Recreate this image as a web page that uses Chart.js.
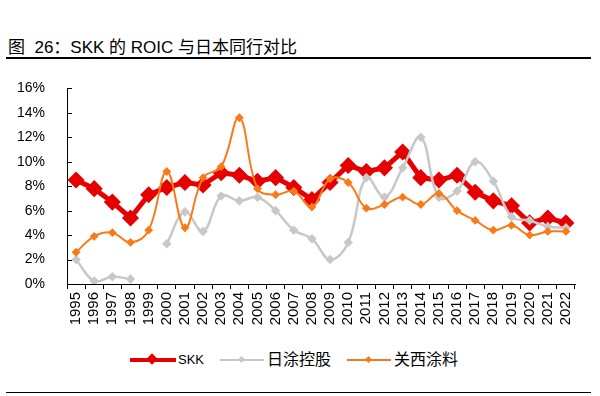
<!DOCTYPE html>
<html>
<head>
<meta charset="utf-8">
<script src="https://cdn.jsdelivr.net/npm/chart.js@4"></script>
<style>
  body { margin: 0; width: 600px; height: 396px; background: #fff; position: relative; overflow: hidden;
         font-family: "Liberation Sans", "Noto Sans CJK SC", sans-serif; }
  #title { position: absolute; left: 8px; top: 33px; font-size: 17px; color: #000; white-space: nowrap; }
  #rule1 { position: absolute; left: 6px; top: 57px; width: 585px; height: 2px; background: #000; }
  #rule2 { position: absolute; left: 6px; top: 392px; width: 585px; height: 1px; background: #000; }
  #wrap { position: absolute; left: 0; top: 66px; width: 600px; height: 270px; }
  #legend { position: absolute; top: 350px; left: 0; width: 600px; height: 20px; }
  .item { position: absolute; top: 0; height: 20px; font-size: 14px; line-height: 20px; color: #000; }
  .ln { position: absolute; top: 9px; }
  .mk { position: absolute; transform: rotate(45deg); }
</style>
</head>
<body>
<div id="title">图&nbsp;&nbsp;26：SKK 的 ROIC 与日本同行对比</div>
<div id="rule1"></div>
<div id="wrap"><canvas id="c"></canvas></div>
<div id="legend">
  <div class="item" style="left:130px">
    <div class="ln" style="left:0;width:46px;height:4px;top:8px;background:#e60000"></div>
    <div class="mk" style="left:18px;top:5px;width:8px;height:8px;background:#e60000"></div>
    <span style="position:absolute;left:48px;font-size:13px">SKK</span>
  </div>
  <div class="item" style="left:220px">
    <div class="ln" style="left:0;width:44px;height:2px;background:#c8c8c8"></div>
    <div class="mk" style="left:19px;top:7px;width:5px;height:5px;background:#c8c8c8"></div>
    <span style="position:absolute;left:47px;font-size:16px;white-space:nowrap">日涂控股</span>
  </div>
  <div class="item" style="left:347px">
    <div class="ln" style="left:0;width:44px;height:2px;background:#f97a18"></div>
    <div class="mk" style="left:19px;top:7px;width:5px;height:5px;background:#f97a18"></div>
    <span style="position:absolute;left:47px;font-size:16px;white-space:nowrap">关西涂料</span>
  </div>
</div>
<div id="rule2"></div>
<script>
let years = ["1995","1996","1997","1998","1999","2000","2001","2002","2003","2004","2005","2006","2007","2008",
             "2009","2010","2011","2012","2013","2014","2015","2016","2017","2018","2019","2020","2021","2022"];
let skk = [8.5,7.8,6.7,5.4,7.3,7.9,8.3,8.1,9.1,8.9,8.4,8.7,7.9,6.9,
           8.3,9.7,9.2,9.5,10.8,8.7,8.5,8.9,7.5,6.8,6.4,5.0,5.4,5.0];
let nippon = [2.0,0.25,0.6,0.4,null,3.3,5.9,4.3,7.2,6.8,7.1,6.0,4.4,3.7,
              2.0,3.4,8.7,7.1,9.5,12.0,7.1,7.6,10.0,8.4,5.5,5.2,4.7,4.6];
let kansai = [2.6,3.9,4.2,3.4,4.4,9.2,4.6,8.7,9.6,13.6,7.8,7.3,7.6,6.3,
              8.6,8.3,6.2,6.5,7.1,6.5,7.4,6.0,5.2,4.4,4.8,4.0,4.3,4.3];
let yTicks = [0,2,4,6,8,10,12,14,16];

let fam = "'Liberation Sans', Arial, sans-serif";

// small inward ticks on the y axis
let yTickPlugin = {
  id: 'yTicks',
  afterDraw(chart) {
    let ctx = chart.ctx, y = chart.scales.y;
    ctx.save();
    ctx.strokeStyle = '#000';
    ctx.lineWidth = 1;
    yTicks.forEach(function(v) {
      let py = Math.round(y.getPixelForValue(v)) + 0.5;
      ctx.beginPath();
      ctx.moveTo(y.right, py);
      ctx.lineTo(y.right + 5, py);
      ctx.stroke();
    });
    ctx.restore();
  }
};

new Chart(document.getElementById('c'), {
  type: 'line',
  data: {
    labels: years,
    datasets: [
      { label: '关西涂料', data: kansai, borderColor: '#f97a18', backgroundColor: '#f97a18',
        borderWidth: 2, tension: 0.4, pointStyle: 'rectRot', pointRadius: 3, pointHoverRadius: 3 },
      { label: '日涂控股', data: nippon, borderColor: '#c8c8c8', backgroundColor: '#c8c8c8',
        borderWidth: 2.5, tension: 0.4, pointStyle: 'rectRot', pointRadius: 3, spanGaps: false },
      { label: 'SKK', data: skk, borderColor: '#e60000', backgroundColor: '#e60000',
        borderWidth: 5, tension: 0, pointStyle: 'rectRot', pointRadius: 5 }
    ]
  },
  options: {
    responsive: true,
    maintainAspectRatio: false,
    animation: false,
    layout: { padding: { top: 22, right: 25, left: 0, bottom: 0 } },
    plugins: { legend: { display: false }, tooltip: { enabled: false } },
    scales: {
      x: {
        offset: true,
        afterFit(scale) { scale.height = 52; },
        grid: { display: true, drawOnChartArea: false, offset: true, tickLength: 5, color: '#000' },
        border: { color: '#000', width: 1 },
        ticks: { color: '#000', font: { family: fam, size: 15 }, maxRotation: 90, minRotation: 90,
                 autoSkip: false, padding: 3 }
      },
      y: {
        min: 0, max: 16,
        afterFit(scale) { scale.width = 67; },
        afterBuildTicks(scale) { scale.ticks = yTicks.map(v => ({ value: v })); },
        grid: { display: false },
        border: { color: '#000', width: 1 },
        ticks: { color: '#000', font: { family: fam, size: 14 }, padding: 14, callback: v => v + '%' }
      }
    }
  },
  plugins: [yTickPlugin]
});
</script>
</body>
</html>
